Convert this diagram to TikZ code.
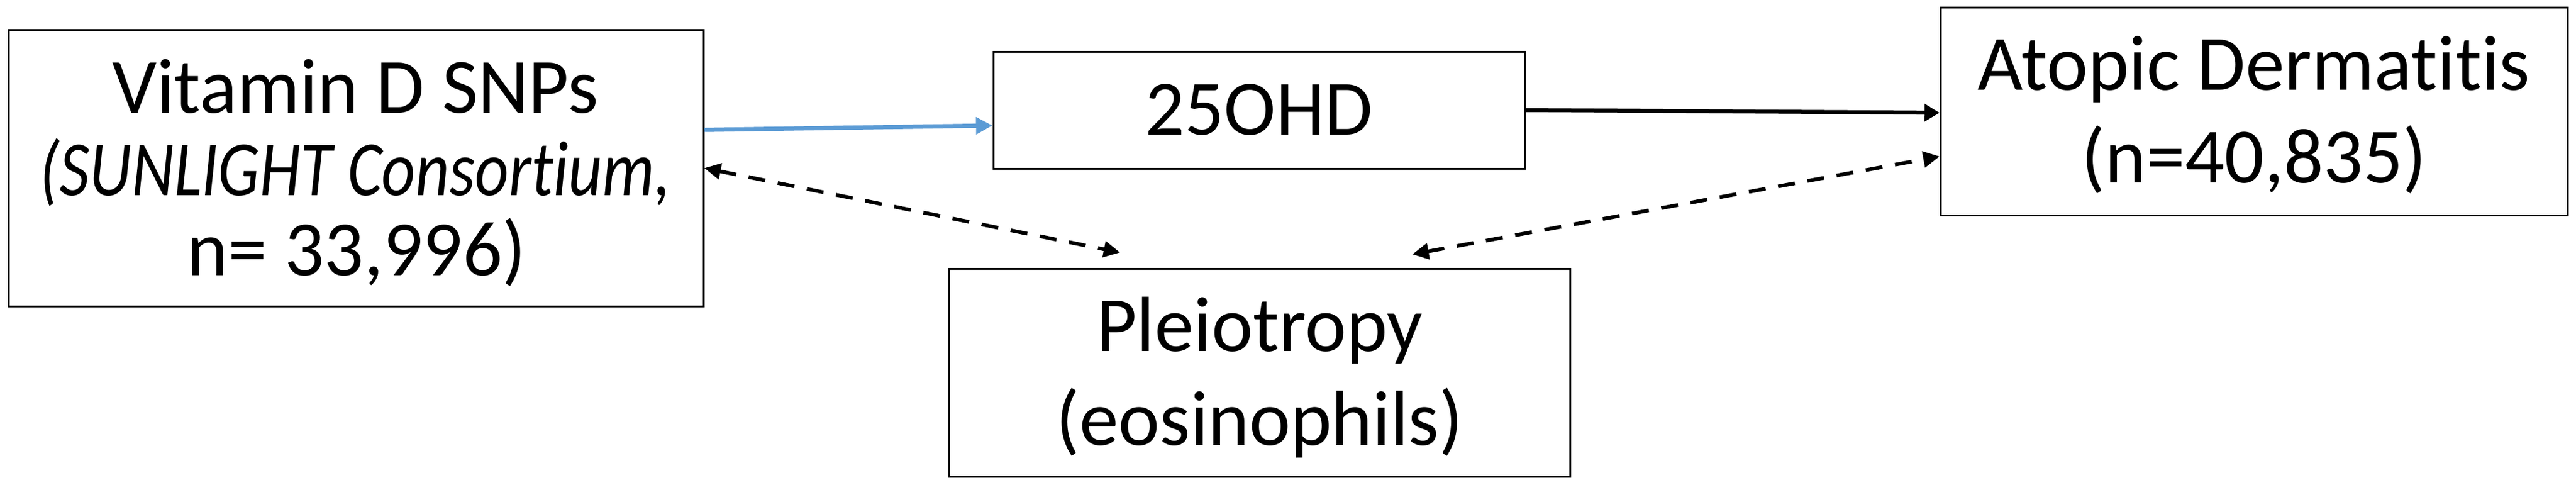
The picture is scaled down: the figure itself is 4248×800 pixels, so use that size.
\documentclass[tikz,border=0pt]{standalone}
\usepackage{fontspec}
\setmainfont[Ligatures=NoCommon]{Carlito}
\usetikzlibrary{arrows.meta}
\definecolor{arrowblue}{HTML}{5B9BD5}
\tikzset{
  box/.style={draw=black, line width=3pt, inner sep=0pt, fill=white},
  txt/.style={inner sep=0pt, anchor=base, font=\fontsize{129}{150}\selectfont},
  bluearrow/.style={draw=arrowblue, line width=7pt, -{Triangle[length=27pt,width=27pt]}},
  solidarrow/.style={draw=black, line width=6.5pt, -{Triangle[length=25pt,width=28pt]}},
  dasharrow/.style={draw=black, line width=6pt, dash pattern=on 28pt off 21pt,
    {Triangle[length=27pt,width=26pt]}-{Triangle[length=27pt,width=26pt]}}
}
\begin{document}
\begin{tikzpicture}[x=1pt,y=-1pt]
\useasboundingbox (0,0) rectangle (4248,800);
\fill[white] (0,0) rectangle (4248,800);
% boxes
\node[box, minimum width=1146pt, minimum height=455.5pt] (L) at (587,277.25) {};
\node[box, minimum width=876pt, minimum height=193pt] (O) at (2076,181.5) {};
\node[box, minimum width=1034pt, minimum height=343pt] (A) at (3717,184.4) {};
\node[box, minimum width=1024pt, minimum height=343pt] (P) at (2077,614.5) {};
% texts
\node[txt] (L1) at (586,186) {Vitamin D SNPs};
\node[txt] (L2) at (586,322) {\resizebox{1041pt}{\height}{\itshape (SUNLIGHT Consortium,}};
\node[txt] (L3) at (588,454) {n= 33,996)};
\node[txt] (O1) at (2076,222) {25OHD};
\node[txt] (A1) at (3717,148) {Atopic Dermatitis};
\node[txt] (A2) at (3717,301) {(n=40,835)};
\node[txt] (P1) at (2077,579) {Pleiotropy};
\node[txt] (P2) at (2077,734) {(eosinophils)};
% connectors
\draw[bluearrow] ([yshift=63pt]L.east) -- ([yshift=-25.5pt]O.west);
\draw[solidarrow] (O.east) -- ([yshift=-1.6pt]A.west);
\draw[dasharrow] (L.east) -- ([xshift=-230pt,yshift=25pt]P.north);
\draw[dasharrow] ([xshift=252pt,yshift=22pt]P.north) -- ([yshift=-73.6pt]A.west);
\end{tikzpicture}
\end{document}
